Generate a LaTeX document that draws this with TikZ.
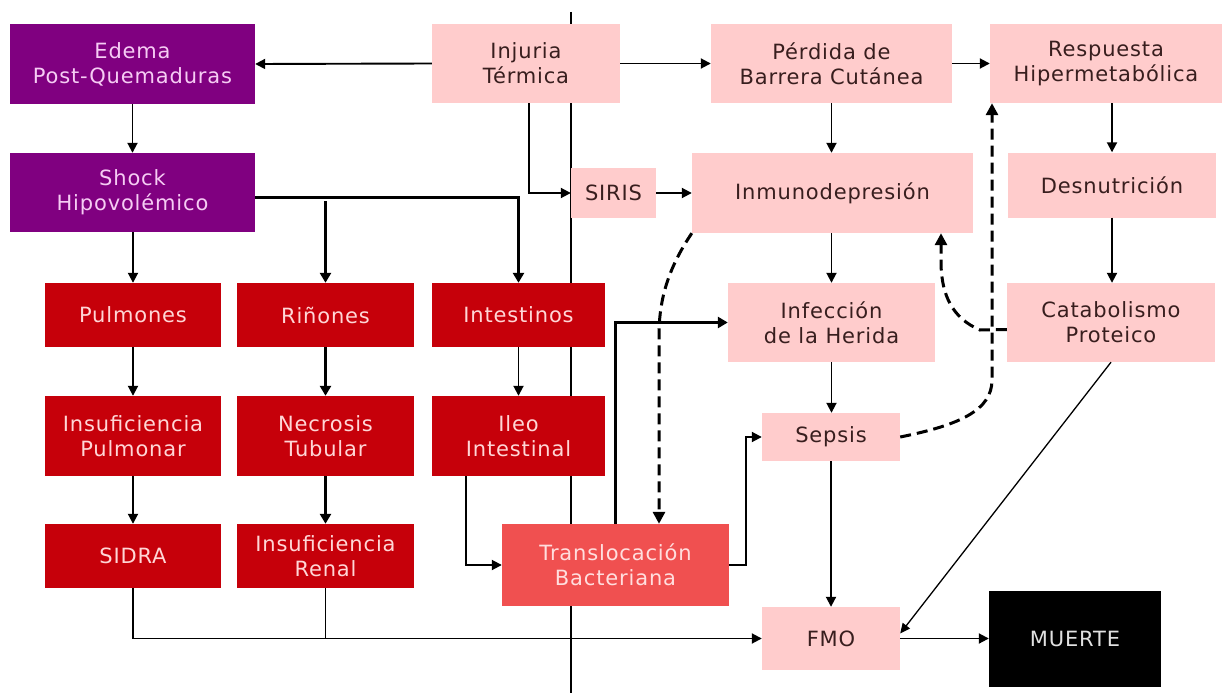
\documentclass[tikz,border=0pt]{standalone}
\usepackage{fontspec}
\setmainfont{DejaVu Sans}[LetterSpace=4.0]
\usetikzlibrary{arrows.meta,calc}
\definecolor{purp}{RGB}{128,0,128}
\definecolor{purptext}{RGB}{246,204,244}
\definecolor{dred}{RGB}{198,0,10}
\definecolor{dredtext}{RGB}{255,214,214}
\definecolor{lpink}{RGB}{255,204,204}
\definecolor{pinktext}{RGB}{56,30,30}
\definecolor{tred}{RGB}{240,80,80}
\definecolor{tredtext}{RGB}{255,222,222}
\definecolor{mtext}{RGB}{225,225,225}
\begin{document}
\begin{tikzpicture}[x=1pt,y=-1pt,
  box/.style={rectangle, inner sep=0pt, align=center, font=\fontsize{21}{25}\selectfont},
  purplebox/.style={box, fill=purp, text=purptext},
  redbox/.style={box, fill=dred, text=dredtext},
  pinkbox/.style={box, fill=lpink, text=pinktext},
  transbox/.style={box, fill=tred, text=tredtext},
  deathbox/.style={box, fill=black, text=mtext},
  conn/.style={line width=1.9pt, -{Triangle[length=10pt,width=10pt]}},
  thickconn/.style={line width=3pt, -{Triangle[length=10pt,width=11pt]}},
  plainline/.style={line width=1.9pt},
  thinconn/.style={line width=1.3pt, -{Triangle[length=10pt,width=9pt]}},
  dashconn/.style={line width=3pt, dash pattern=on 11pt off 6pt, -{Triangle[length=12pt,width=12pt]}},
]
\useasboundingbox (0,0) rectangle (1223,693);
\fill[white] (0,0) rectangle (1223,693);
% divider line
\draw[line width=1.6pt] (571,12) -- (571,693);

% nodes
\node[purplebox, minimum width=245pt, minimum height=80pt] (edema) at (132.5,64) {Edema\\Post-Quemaduras};
\node[purplebox, minimum width=245pt, minimum height=79pt] (shock) at (132.5,192.5) {Shock\\Hipovolémico};
\node[pinkbox, minimum width=188pt, minimum height=79pt] (injuria) at (526,63.5) {Injuria\\Térmica};
\node[pinkbox, minimum width=241pt, minimum height=79pt] (perdida) at (831.5,63.5) {Pérdida de\\Barrera Cutánea};
\node[pinkbox, minimum width=232pt, minimum height=79pt] (respuesta) at (1106,63.5) {Respuesta\\Hipermetabólica};
\node[pinkbox, minimum width=85pt, minimum height=50pt] (siris) at (613.5,193) {SIRIS};
\node[pinkbox, minimum width=281pt, minimum height=80pt] (inmuno) at (832.5,193) {Inmunodepresión};
\node[pinkbox, minimum width=208pt, minimum height=65pt] (desnut) at (1112,185) {Desnutrición};
\node[redbox, minimum width=176pt, minimum height=64pt] (pulmones) at (133,315) {Pulmones};
\node[redbox, minimum width=177pt, minimum height=64pt] (rinones) at (325.5,315) {Riñones};
\node[redbox, minimum width=173pt, minimum height=64pt] (intestinos) at (518.5,315) {Intestinos};
\node[pinkbox, minimum width=207pt, minimum height=79pt] (infeccion) at (831.5,322.5) {Infección\\de la Herida};
\node[pinkbox, minimum width=208pt, minimum height=79pt] (catab) at (1111,322.5) {Catabolismo\\Proteico};
\node[redbox, minimum width=176pt, minimum height=80pt] (insufpulm) at (133,436) {Insuficiencia\\Pulmonar};
\node[redbox, minimum width=177pt, minimum height=80pt] (necrosis) at (325.5,436) {Necrosis\\Tubular};
\node[redbox, minimum width=173pt, minimum height=80pt] (ileo) at (518.5,436) {Ileo\\Intestinal};
\node[pinkbox, minimum width=138pt, minimum height=48pt] (sepsis) at (831,437) {Sepsis};
\node[redbox, minimum width=176pt, minimum height=64pt] (sidra) at (133,556) {SIDRA};
\node[redbox, minimum width=177pt, minimum height=64pt] (insufrenal) at (325.5,556) {Insuficiencia\\Renal};
\node[transbox, minimum width=227pt, minimum height=82pt] (transloc) at (615.5,565) {Translocación\\Bacteriana};
\node[pinkbox, minimum width=138pt, minimum height=63pt] (fmo) at (831,638.5) {FMO};
\node[deathbox, minimum width=172pt, minimum height=96pt] (muerte) at (1075,638.5) {MUERTE};

% helper coordinates
\coordinate (rtop) at (325.5,201);
\coordinate (dA) at (659,330);
\coordinate (dB) at (992,380);
\coordinate (cC) at (980,330);
\coordinate (dC) at (941,265);

% connectors
\draw[conn] (injuria.west) -- (edema.east);
\draw[conn] (injuria.east) -- (perdida.west);
\draw[conn] (perdida.east) -- (respuesta.west);
\draw[conn] (edema.south) -- (shock.north);
\draw[conn] ($(injuria.south)+(3,0)$) |- (siris.west);
\draw[conn] (siris.east) -- (inmuno.west);
\draw[conn] (perdida.south) -- (perdida.south |- inmuno.north);
\draw[conn] (desnut.north |- respuesta.south) -- (desnut.north);
\draw[conn] (desnut.south) -- (desnut.south |- catab.north);
\draw[conn] (infeccion.north |- inmuno.south) -- (infeccion.north);
\draw[conn] (infeccion.south) -- (infeccion.south |- sepsis.north);
\draw[conn] (sepsis.south) -- (fmo.north);
\draw[conn] (fmo.east) -- (muerte.west);
\draw[thinconn] (catab.south) -- ([yshift=5pt]fmo.east);

\draw[conn] (shock.south -| pulmones.north) -- (pulmones.north);
\draw[thickconn] ($(shock.east)+(0,4.5)$) -| (intestinos.north);
\draw[thickconn] (rtop) -- (rinones.north);
\draw[conn] (pulmones.south) -- (insufpulm.north);
\draw[thickconn] (rinones.south) -- (necrosis.north);
\draw[conn] (intestinos.south) -- (ileo.north);
\draw[conn] (insufpulm.south) -- (sidra.north);
\draw[thickconn] (necrosis.south) -- (insufrenal.north);
\draw[conn] ($(ileo.south west)+(34,0)$) |- (transloc.west);
\draw[thickconn] (transloc.north) |- (infeccion.west);
\draw[conn] (transloc.east) -- ++(17,0) |- (sepsis.west);
\draw[conn] (sidra.south) |- (fmo.west);
\draw[plainline] (insufrenal.south) -- (insufrenal.south |- fmo.west);

% dashed feedback
\draw[dashconn] (inmuno.south west) .. controls (667,270) and (660,300) .. (dA) -- (dA |- transloc.north);
\draw[dashconn] (sepsis.east) .. controls (960,425) and (992,410) .. (dB) -- (dB |- respuesta.south);
\draw[dashconn] ([yshift=-7pt]catab.west) -- (cC) .. controls (952,318) and (942,295) .. (dC) -- (dC |- inmuno.south);
\end{tikzpicture}
\end{document}
